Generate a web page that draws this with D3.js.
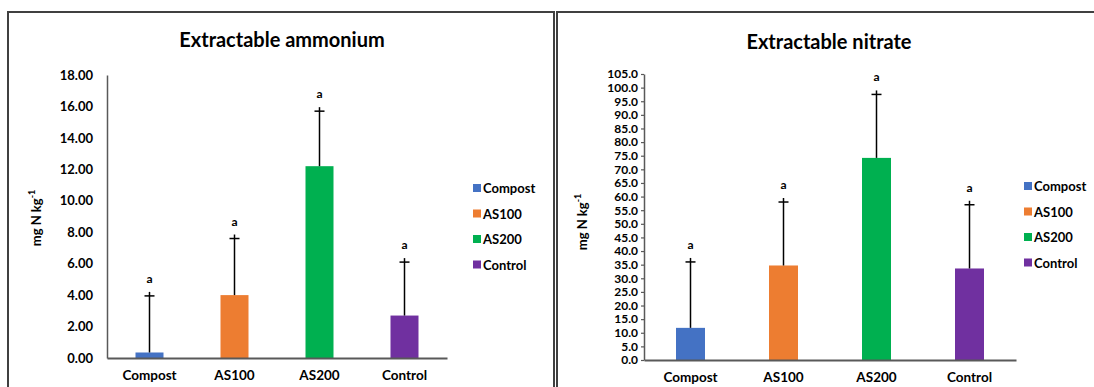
<!DOCTYPE html>
<html>
<head>
<meta charset="utf-8">
<script src="https://cdn.jsdelivr.net/npm/d3@7"></script>
<style>
  body { margin: 0; background: #fff; }
  text { font-family: Lato, "Open Sans", sans-serif; font-weight: bold; fill: #000; }
</style>
</head>
<body>
<script>
// treatments and colours
const categories = ["Compost", "AS100", "AS200", "Control"];
const colors = ["#4472C4", "#ED7D31", "#00B050", "#7030A0"];
const letters = ["a", "a", "a", "a"];

// extractable ammonium (mg N/kg) mean and error
const ammoniumMean = [0.35, 4.0, 12.2, 2.7];
const ammoniumErr = [3.6, 3.6, 3.5, 3.4];
const ammoniumTicks = d3.range(0, 18.01, 2);

// extractable nitrate (mg N/kg)
const nitrateMean = [11.8, 34.7, 74.2, 33.6];
const nitrateErr = [24.2, 23.3, 23.3, 23.4];
const nitrateTicks = d3.range(0, 105.01, 5);

const W = 1094, H = 387;
const svg = d3.select("body").append("svg").attr("width", W).attr("height", H);

function panel(cfg) {
  const g = svg.append("g");
  // frame
  g.append("rect")
    .attr("x", cfg.frame[0]).attr("y", 12)
    .attr("width", cfg.frame[1]).attr("height", 400)
    .attr("fill", "none").attr("stroke", "#404040").attr("stroke-width", 2);

  g.append("text")
    .attr("x", cfg.titleX).attr("y", cfg.titleY)
    .attr("text-anchor", "middle").style("font-size", "20px")
    .text(cfg.title);

  const x = d3.scaleBand().domain(categories).range([cfg.x0, cfg.x1]).paddingInner(0).paddingOuter(0);
  const y = d3.scaleLinear().domain([0, cfg.max]).range([cfg.y0, cfg.y1]);

  // bars
  g.selectAll(".bar").data(cfg.mean).enter().append("rect")
    .attr("x", (d, i) => x(categories[i]) + x.bandwidth() / 2 - cfg.bw / 2)
    .attr("y", d => y(d))
    .attr("width", cfg.bw)
    .attr("height", d => y(0) - y(d))
    .attr("fill", (d, i) => colors[i]);

  // error bars
  cfg.mean.forEach((m, i) => {
    const cx = x(categories[i]) + x.bandwidth() / 2;
    const top = y(m + cfg.err[i]);
    g.append("line").attr("x1", cx).attr("x2", cx)
      .attr("y1", y(m)).attr("y2", top - 4)
      .attr("stroke", "#000").attr("stroke-width", 1.5);
    g.append("line").attr("x1", cx - 5).attr("x2", cx + 5)
      .attr("y1", top).attr("y2", top)
      .attr("stroke", "#000").attr("stroke-width", 1.5);
    g.append("text").attr("x", cx).attr("y", top - 13)
      .attr("text-anchor", "middle").style("font-size", "12px")
      .text(letters[i]);
  });

  // axes
  const ya = g.append("g").attr("transform", `translate(${cfg.x0},0)`)
    .call(d3.axisLeft(y).tickValues(cfg.ticks).tickFormat(d3.format(cfg.fmt))
      .tickSize(cfg.tick).tickSizeOuter(0).tickPadding(cfg.pad));
  ya.select(".domain").attr("stroke", "#595959").attr("stroke-width", 1.5);
  ya.selectAll(".tick line").attr("stroke", "#595959").attr("stroke-width", 1.2);
  ya.selectAll("text").style("font-size", cfg.tickFont).style("font-family", "Lato, sans-serif").style("font-weight", "bold");

  const xa = g.append("g").attr("transform", `translate(0,${cfg.y0})`)
    .call(d3.axisBottom(x).tickSize(0).tickPadding(12));
  xa.select(".domain").attr("stroke", "#595959").attr("stroke-width", 2);
  xa.selectAll("text").style("font-size", "13.5px").style("font-family", "Lato, sans-serif").style("font-weight", "bold");

  // y label
  const yl = g.append("text")
    .attr("transform", `translate(${cfg.ylX},${cfg.ylY}) rotate(-90)`)
    .attr("text-anchor", "middle").style("font-size", "13px");
  yl.append("tspan").text("mg N kg");
  yl.append("tspan").attr("dy", -6).style("font-size", "9px").text("-1");

  // legend
  const lg = g.append("g").attr("transform", `translate(${cfg.legX},${cfg.legY})`);
  categories.forEach((c, i) => {
    lg.append("rect").attr("x", 0).attr("y", i * 25.5 - 9).attr("width", 8).attr("height", 8).attr("fill", colors[i]);
    lg.append("text").attr("x", 10).attr("y", i * 25.5).style("font-size", "13px").text(c);
  });
}

panel({
  frame: [8, 546], title: "Extractable ammonium", titleX: 282, titleY: 47,
  x0: 107, x1: 447, y0: 358, y1: 75, max: 18, bw: 28,
  mean: ammoniumMean, err: ammoniumErr, ticks: ammoniumTicks, fmt: ".2f", tickFont: "13px",
  tick: 0, pad: 14, ylX: 41, ylY: 218, legX: 473, legY: 193
});

panel({
  frame: [557, 545], title: "Extractable nitrate", titleX: 829, titleY: 49,
  x0: 644, x1: 1016, y0: 360, y1: 74, max: 105, bw: 29,
  mean: nitrateMean, err: nitrateErr, ticks: nitrateTicks, fmt: ".1f", tickFont: "12px",
  tick: 3, pad: 3, ylX: 587, ylY: 222, legX: 1024, legY: 191
});
</script>
</body>
</html>
